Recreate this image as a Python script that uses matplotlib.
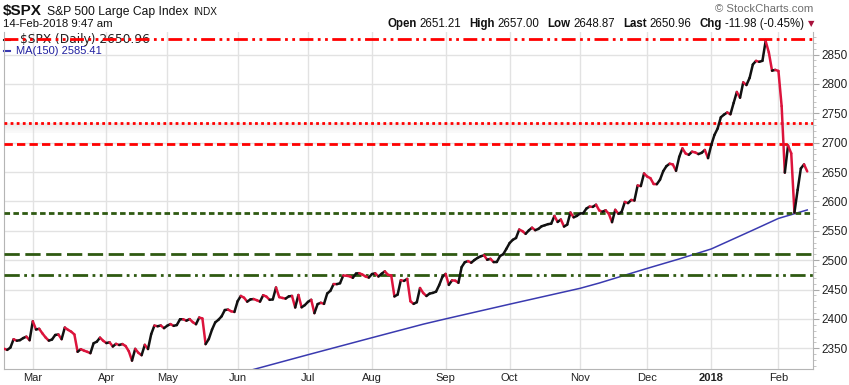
import matplotlib
matplotlib.use("Agg")
import matplotlib.pyplot as plt
import numpy as np
import pandas as pd
from matplotlib.collections import LineCollection
from matplotlib.ticker import MultipleLocator

plt.rcParams['font.family'] = ['Liberation Sans', 'DejaVu Sans']

# ---- data (daily closes, 15-Feb-2017 .. 14-Feb-2018) ----
closes = [
    # Feb 2017
    2349.25, 2347.22, 2351.16, 2365.38, 2362.82, 2363.81, 2367.34, 2369.75, 2363.64,
    # Mar
    2395.96, 2381.92, 2383.12, 2375.31, 2368.39, 2362.98, 2364.87, 2372.60, 2373.47, 2365.45,
    2385.26, 2381.38, 2378.25, 2373.47, 2344.02, 2348.45, 2345.96, 2343.98, 2341.59, 2358.57,
    2361.13, 2368.06, 2362.72,
    # Apr
    2358.84, 2360.16, 2352.95, 2357.49, 2355.54, 2357.16, 2353.78, 2344.93, 2328.95, 2349.01,
    2342.19, 2338.17, 2355.84, 2348.69, 2374.15, 2388.61, 2387.45, 2388.77, 2384.20,
    # May
    2388.33, 2391.17, 2388.13, 2389.52, 2399.29, 2399.38, 2396.92, 2399.63, 2394.44, 2390.90,
    2402.32, 2400.67, 2357.03, 2365.72, 2381.73, 2394.02, 2398.42, 2404.39, 2415.07, 2415.82,
    2412.91, 2411.80,
    # Jun
    2430.06, 2439.07, 2436.10, 2429.33, 2433.14, 2433.79, 2431.77, 2429.39, 2440.35, 2437.92,
    2432.46, 2433.15, 2453.46, 2437.03, 2435.61, 2434.50, 2438.30, 2439.07, 2419.38, 2440.69,
    2419.70, 2423.41,
    # Jul
    2429.01, 2432.54, 2409.75, 2425.18, 2427.43, 2425.53, 2443.25, 2447.83, 2459.27, 2459.14,
    2460.61, 2473.83, 2473.45, 2472.54, 2469.91, 2477.13, 2477.83, 2475.42, 2472.10, 2470.30,
    # Aug
    2476.35, 2477.57, 2472.16, 2476.83, 2480.91, 2474.92, 2474.02, 2438.21, 2441.32, 2465.84,
    2464.61, 2468.11, 2430.01, 2425.55, 2428.37, 2452.51, 2444.04, 2438.97, 2443.05, 2444.24,
    2446.30, 2457.59, 2471.65,
    # Sep
    2476.55, 2457.85, 2465.54, 2465.10, 2461.43, 2488.11, 2496.48, 2498.37, 2495.62, 2500.23,
    2503.87, 2506.65, 2508.24, 2500.60, 2502.22, 2496.66, 2496.84, 2507.04, 2510.06, 2519.36,
    # Oct
    2529.12, 2534.58, 2537.74, 2552.07, 2549.33, 2544.73, 2550.64, 2555.24, 2550.93, 2553.17,
    2557.64, 2559.36, 2561.26, 2562.10, 2575.21, 2564.98, 2569.13, 2557.15, 2560.40, 2581.07,
    2572.83, 2575.26,
    # Nov
    2579.36, 2579.85, 2587.84, 2591.13, 2590.64, 2594.38, 2584.62, 2582.30, 2584.84, 2578.87,
    2564.62, 2585.64, 2578.85, 2582.14, 2599.03, 2597.08, 2602.42, 2601.42, 2627.04, 2626.07,
    2647.58,
    # Dec
    2642.22, 2639.44, 2629.57, 2629.27, 2636.98, 2651.50, 2659.99, 2664.11, 2662.85, 2652.01,
    2675.81, 2690.16, 2681.47, 2679.25, 2684.57, 2683.34, 2680.50, 2682.62, 2687.54, 2673.61,
    # Jan 2018
    2695.81, 2713.06, 2723.99, 2743.15, 2747.71, 2751.29, 2748.23, 2767.56, 2786.24, 2776.42,
    2802.56, 2798.03, 2810.30, 2832.97, 2839.13, 2837.54, 2839.25, 2872.87, 2853.53, 2822.43,
    2823.81,
    # Feb 2018
    2821.98, 2762.13, 2648.94, 2695.14, 2681.66, 2581.00, 2619.55, 2656.00, 2662.94, 2650.96,
]

# MA(150) at a few trading-day indices
ma_idx = [76, 95, 115, 131, 138, 158, 180, 186, 201, 211, 221, 234, 242, 251]
ma_val = [2311, 2339, 2368, 2391, 2400, 2425, 2452, 2461, 2486, 2502, 2519, 2551, 2571, 2585.41]

# horizontal reference lines: (value, colour, style)
hlines = [
    (2877, "#ff0000", (0, (5, 1.6, 1, 1.6, 1, 1.6))),
    (2734, "#ff0000", (0, (1, 1.2))),
    (2698, "#ff0000", (0, (3, 1.5))),
    (2580, "#2f5a12", (0, (2, 1.2))),
    (2510, "#2f5a12", (0, (5.5, 2))),
    (2474, "#2f5a12", (0, (5.5, 1.6, 1, 1.6, 1, 1.6))),
]

holidays = ["2017-02-20", "2017-04-14", "2017-05-29", "2017-07-04", "2017-09-04",
            "2017-11-23", "2017-12-25", "2018-01-01", "2018-01-15"]
month_names = ["Mar", "Apr", "May", "Jun", "Jul", "Aug", "Sep", "Oct", "Nov", "Dec", "2018", "Feb"]

W, H = 849, 385
UP, DOWN = "#111111", "#dc143c"
MA_COLOR = "#3a3ab0"


def px(x, y):
    return x / W, 1 - y / H


if __name__ == "__main__":
    dates = pd.bdate_range("2017-02-15", "2018-02-14", freq="C", holidays=holidays)
    xs = np.arange(len(closes))
    ys = np.array(closes)
    month_starts = [i for i in range(1, len(dates)) if dates[i].month != dates[i - 1].month]

    fig = plt.figure(figsize=(W / 100, H / 100), dpi=100)
    l, b = px(4, 369)
    ax = fig.add_axes([l, b, (813 - 4) / W, (369 - 32) / H])
    ax.set_xlim(0, 252.8)
    ax.set_ylim(2314.7, 2888.3)

    # grid
    ax.set_axisbelow(True)
    ax.yaxis.set_major_locator(MultipleLocator(50))
    ax.yaxis.set_minor_locator(MultipleLocator(10))
    ax.set_xticks(month_starts)
    ax.set_xticklabels(month_names)
    ax.grid(True, color="#e2e2e2", lw=1)
    for lab in ax.get_xticklabels():
        if lab.get_text() == "2018":
            lab.set_fontweight("bold")
    ax.tick_params(axis="x", length=0, pad=3, labelsize=8, colors="#222222")
    ax.yaxis.tick_right()
    ax.tick_params(axis="y", which="major", length=4, color="#aaaaaa", labelsize=8.5, pad=2,
                   labelcolor="#222222")
    ax.tick_params(axis="y", which="minor", length=2, color="#bbbbbb")
    for s in ["left", "bottom", "right"]:
        ax.spines[s].set_color("#b5b5b5")
    ax.spines["top"].set_visible(False)

    # soft band under the dotted line
    for k in range(8):
        ax.axhspan(2733 - k * 2, 2731 - k * 2, color="#d8d8d8", alpha=0.5 - k * 0.05, lw=0, zorder=1)

    # reference lines
    for val, col, ls in hlines:
        ax.axhline(val, color=col, lw=2, linestyle=ls, zorder=4)

    # MA line
    ax.plot(ma_idx, ma_val, color=MA_COLOR, lw=1.1, zorder=3)

    # price line, black when rising, red when falling
    segs = np.stack([np.column_stack([xs[:-1], ys[:-1]]), np.column_stack([xs[1:], ys[1:]])], axis=1)
    cols = [UP if ys[i + 1] >= ys[i] else DOWN for i in range(len(ys) - 1)]
    ax.add_collection(LineCollection(segs, colors=cols, lw=1.8, zorder=5, capstyle="round",
                                     joinstyle="round"))

    # legend inside plot (under the red line)
    ax.plot([4 / W, 10 / W], [1 - 39.5 / H] * 2, transform=fig.transFigure, color="#222222", lw=1.5,
            zorder=2, clip_on=False)
    ax.text(*px(20, 39.5), r"\$SPX (Daily) 2650.96", transform=fig.transFigure, fontsize=8.8,
            color="#222222", va="center", zorder=2, family="DejaVu Sans")
    ax.plot([4 / W, 10 / W], [1 - 50.5 / H] * 2, transform=fig.transFigure, color=MA_COLOR, lw=1.5,
            zorder=2, clip_on=False)
    ax.text(*px(16, 50.5), "MA(150) 2585.41", transform=fig.transFigure, fontsize=8,
            color="#2020a0", va="center", zorder=2)

    # header
    renderer = fig.canvas.get_renderer()

    def run_text(x, y, parts):
        for s, gap, kw in parts:
            t = fig.text(*px(x, y), s, va="baseline", ha="left", **kw)
            x += t.get_window_extent(renderer).width + gap
        return x

    run_text(3, 15, [
        (r"\$SPX", 5, dict(fontsize=11, fontweight="bold", color="#111111")),
        ("S&P 500 Large Cap Index", 5, dict(fontsize=8.7, color="#111111")),
        ("INDX", 0, dict(fontsize=7.2, color="#111111")),
    ])
    fig.text(*px(3, 27), "14-Feb-2018 9:47 am", fontsize=8.2, va="baseline", color="#111111")

    bold = dict(fontsize=8.3, fontweight="bold", color="#111111")
    norm = dict(fontsize=8.3, color="#111111")
    parts = [("Open", 3, bold), ("2651.21", 8, norm), ("High", 3, bold), ("2657.00", 8, norm),
             ("Low", 3, bold), ("2648.87", 8, norm), ("Last", 3, bold), ("2650.96", 8, norm),
             ("Chg", 3, bold), ("-11.98 (-0.45%)", 0, norm)]
    # measure total width, then right-align at x=804
    tmp = [fig.text(0, 0, s, **kw) for s, _, kw in parts]
    total = sum(t.get_window_extent(renderer).width for t in tmp) + sum(g for _, g, _ in parts)
    for t in tmp:
        t.remove()
    run_text(804 - total, 27, parts)
    fig.text(*px(811, 24), "\u25bc", fontsize=6, color="#a8123c", ha="center", va="center",
             family="DejaVu Sans")
    fig.text(*px(813, 9.5), "\u00a9 StockCharts.com", fontsize=8.2, color="#6e6e6e", ha="right",
             va="center")

    fig.savefig("out.png", dpi=100)
